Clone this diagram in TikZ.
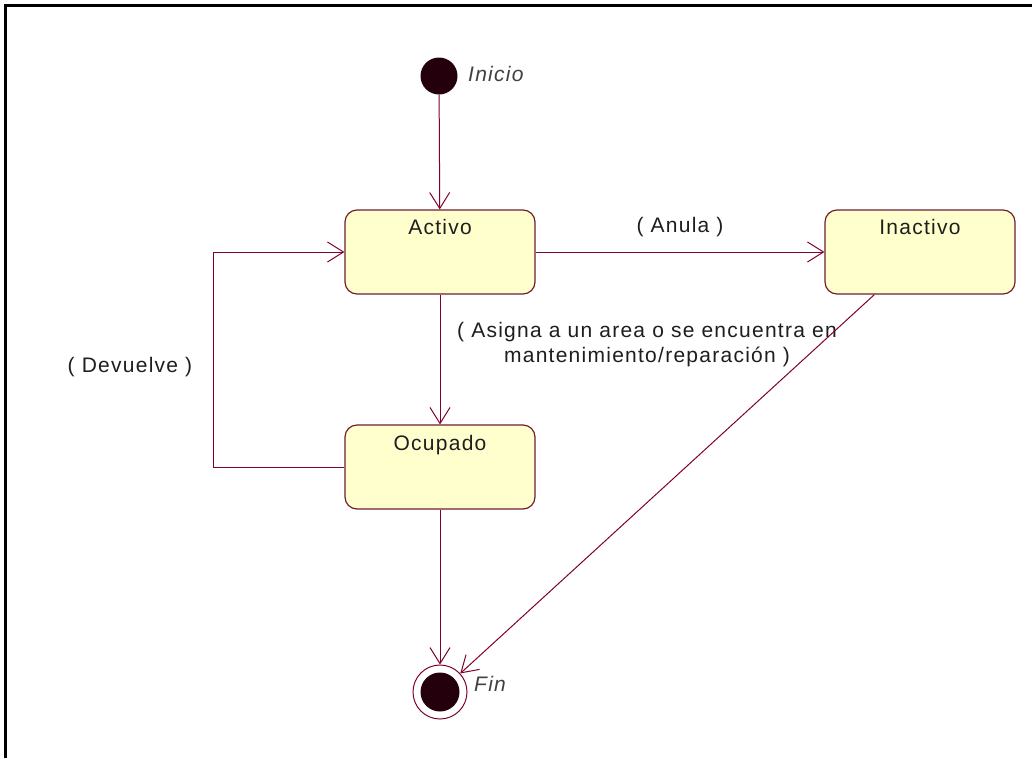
\documentclass[tikz,border=0pt]{standalone}
\usepackage{fontspec}
\setmainfont{Liberation Sans}[LetterSpace=6]
\usetikzlibrary{arrows.meta,calc}
\definecolor{umlline}{RGB}{128,0,48}
\definecolor{umlfill}{RGB}{255,255,206}
\definecolor{umlborder}{RGB}{110,30,50}
\definecolor{txt}{RGB}{30,30,30}
\definecolor{dot}{RGB}{35,0,12}
\begin{document}
\begin{tikzpicture}[x=1pt,y=-1pt,
  statebox/.style={draw=umlborder, line width=1.2pt, fill=umlfill, rounded corners=12pt,
    minimum width=190pt, minimum height=84pt, inner sep=0pt},
  conn/.style={draw=umlline, line width=1pt, -{Straight Barb[length=16pt,width=20pt,line width=1pt]}},
  lbl/.style={font=\fontsize{21}{25}\selectfont, text=txt, inner sep=0pt},
  ilbl/.style={font=\fontsize{21}{25}\selectfont\itshape, text=black!75, inner sep=0pt},
  title/.style={font=\fontsize{21}{25}\selectfont, text=txt, inner sep=0pt, anchor=north}
]
\useasboundingbox (0,0) rectangle (1032,758);
\fill[white] (0,0) rectangle (1032,758);
\draw[line width=3pt, black] (5.5,758) -- (5.5,5.5) -- (1032,5.5);

% states
\node[circle, fill=dot, minimum size=37pt, inner sep=0pt] (ini) at (439,76) {};
\node[ilbl, anchor=west] (inilbl) at (468,74) {Inicio};

\node[statebox] (activo) at (440,252) {};
\node[title] (activot) at ($(activo.north)+(0,10)$) {Activo};

\node[statebox] (inactivo) at (920,252) {};
\node[title] (inactivot) at ($(inactivo.north)+(0,10)$) {Inactivo};

\node[statebox] (ocupado) at (440,467) {};
\node[title] (ocupadot) at ($(ocupado.north)+(0,11)$) {Ocupado};

\node[circle, draw=umlline, line width=1pt, fill=white, minimum size=54pt, inner sep=0pt] (fin) at (440,692) {};
\node[circle, fill=dot, minimum size=39pt, inner sep=0pt] (finin) at (fin) {};
\node[ilbl, anchor=west] (finlbl) at (474,684) {Fin};

% connectors
\draw[conn] (ini) -- (activo);
\draw[conn] (activo) -- (inactivo);
\node[lbl] (anula) at (680,227) {( Anula )};
\draw[conn] (activo) -- (ocupado);
\node[lbl, align=center] (asigna) at (647,345) {( Asigna a un area o se encuentra en\\mantenimiento/reparación )};
\coordinate (loop) at (213,467);
\draw[conn] (ocupado.west) -- (loop) |- (activo.west);
\node[lbl] (devuelve) at (130,367) {( Devuelve )};
\coordinate (inS) at ($(inactivo.south west)+(50,0)$);
\draw[conn] (inS) -- (fin);
\draw[conn] (ocupado) -- (fin);
\end{tikzpicture}
\end{document}
